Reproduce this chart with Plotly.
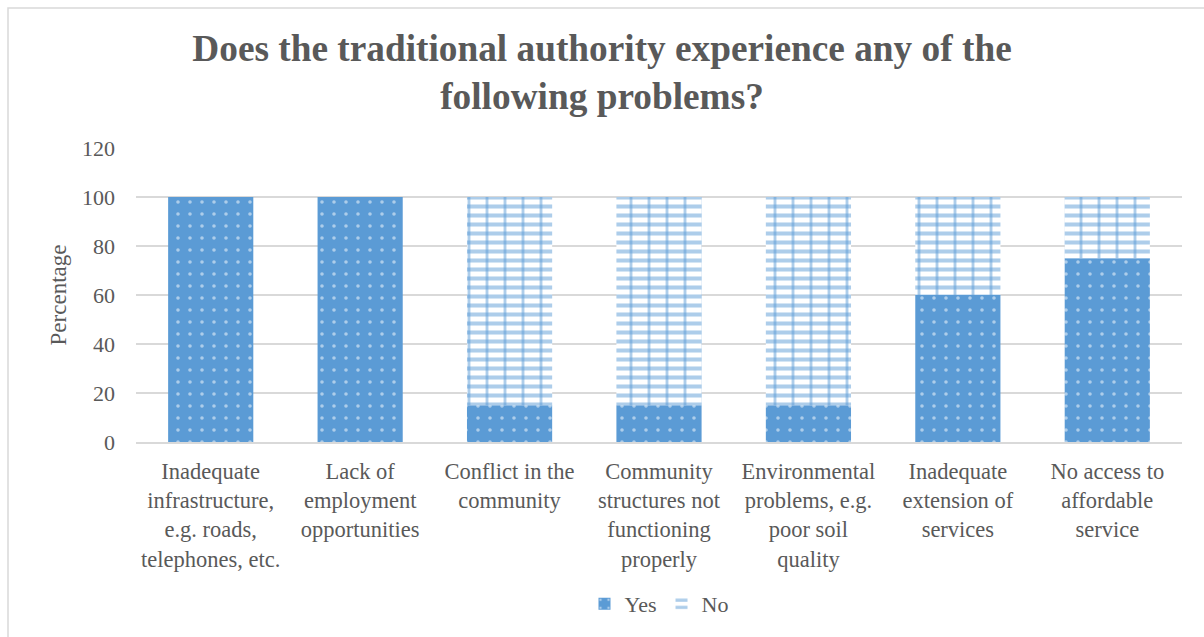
import plotly.graph_objects as go

categories = [
    "Inadequate<br>infrastructure,<br>e.g. roads,<br>telephones, etc.",
    "Lack of<br>employment<br>opportunities",
    "Conflict in the<br>community",
    "Community<br>structures not<br>functioning<br>properly",
    "Environmental<br>problems, e.g.<br>poor soil<br>quality",
    "Inadequate<br>extension of<br>services",
    "No access to<br>affordable<br>service",
]
yes_values = [100, 100, 15, 15, 15, 60, 75]
no_values = [0, 0, 85, 85, 85, 40, 25]
y_ticks = [0, 20, 40, 60, 80, 100, 120]

BLUE = "#5B9BD5"
TEXT = "#595959"
FONT = "Liberation Serif, Times New Roman, serif"

W, H = 1204, 637
L, R, T, B = 136, 22, 148, 195
pw, ph = W - L - R, H - T - B

fig = go.Figure()

fig.add_trace(go.Bar(
    x=categories, y=yes_values, name="Yes", opacity=1,
    marker=dict(color=BLUE, line=dict(width=0),
                pattern=dict(shape=".", fgcolor="white", bgcolor=BLUE,
                             size=12, solidity=0.07, fillmode="overlay")),
))
# brick-like fill: horizontal courses
fig.add_trace(go.Bar(
    x=categories, y=no_values, base=yes_values, name="No", opacity=1,
    marker=dict(color="white", line=dict(width=0),
                pattern=dict(shape="-", fgcolor=BLUE, bgcolor="white",
                             size=9, solidity=0.45, fillmode="overlay")),
))
# brick-like fill: vertical joints
fig.add_trace(go.Bar(
    x=categories, y=no_values, base=yes_values, name="No", opacity=1,
    showlegend=False, hoverinfo="skip",
    marker=dict(color="rgba(0,0,0,0)", line=dict(width=0),
                pattern=dict(shape="|", fgcolor=BLUE, bgcolor="rgba(0,0,0,0)",
                             size=18, solidity=0.16, fillmode="overlay")),
))

# outer chart frame
x0 = (8 - L) / pw
y1 = 1 + (T - 8) / ph
fig.add_shape(type="rect", xref="paper", yref="paper",
              x0=x0, x1=1 + (R + 20) / pw, y0=-(B + 20) / ph, y1=y1,
              line=dict(color="#D9D9D9", width=1.5), layer="below")

fig.update_layout(
    width=W, height=H,
    margin=dict(l=L, r=R, t=T, b=B, autoexpand=False),
    paper_bgcolor="white", plot_bgcolor="white",
    barmode="overlay", bargap=0.43,
    font=dict(family=FONT, color=TEXT, size=22),
    title=dict(
        text="<b>Does the traditional authority experience any of the<br>following problems?</b>",
        x=0.5, xanchor="center", y=0.905, yanchor="top",
        font=dict(family=FONT, size=37.3, color=TEXT),
    ),
    legend=dict(orientation="h", x=0.5, xanchor="center",
                y=-(583 - T - ph) / ph, yanchor="top",
                font=dict(size=22, color=TEXT, family=FONT), traceorder="normal",
                itemwidth=30),
    showlegend=True,
)

fig.update_xaxes(showgrid=False, showline=True, linecolor="#D9D9D9", linewidth=1.5,
                 ticks="", tickfont=dict(size=22.5, color=TEXT, family=FONT),
                 ticklabelstandoff=8)
fig.update_yaxes(range=[0, 120], tickvals=y_ticks, showgrid=True,
                 gridcolor="#D9D9D9", gridwidth=1.5, zeroline=False,
                 showline=False, ticks="", ticklabelstandoff=20,
                 tickfont=dict(size=22, color=TEXT, family=FONT),
                 title=dict(text="Percentage", font=dict(size=23, color=TEXT, family=FONT),
                            standoff=8))

fig.write_html("out.html")
